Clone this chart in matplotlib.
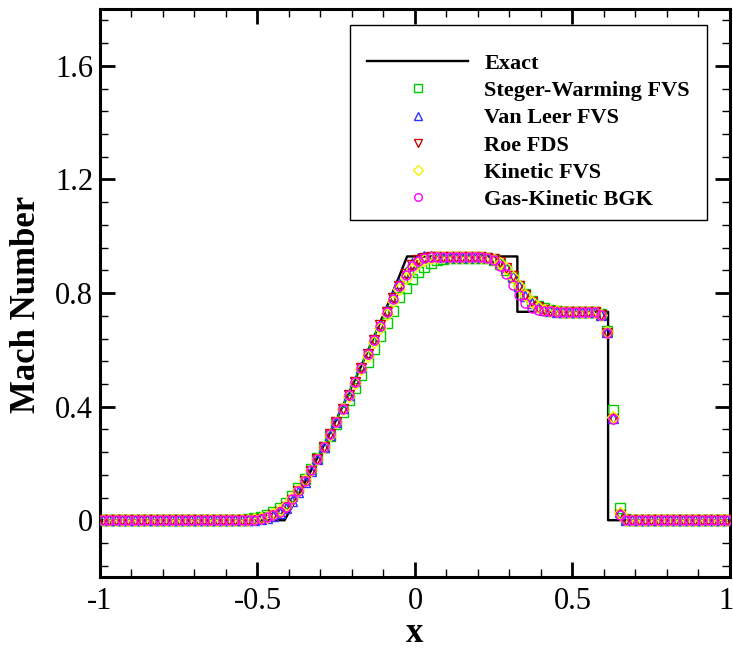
import numpy as np
import matplotlib
matplotlib.use("Agg")
import matplotlib.pyplot as plt
from matplotlib.patches import Rectangle
from matplotlib.ticker import MultipleLocator, FuncFormatter
from matplotlib.transforms import ScaledTranslation

# ---------------- data ----------------
# exact solution (breakpoints)
exact_x = [-1.0, -0.414, -0.37, -0.33, -0.29, -0.25, -0.21, -0.17, -0.13, -0.09,
           -0.05, -0.025, 0.325, 0.325, 0.613, 0.613, 1.0]
exact_m = [0.0, 0.0, 0.090, 0.175, 0.263, 0.354, 0.448, 0.545, 0.646, 0.750,
           0.859, 0.929, 0.929, 0.734, 0.734, 0.0, 0.0]

# cell centres of the 100-cell grid
x_cells = np.linspace(-0.99, 0.99, 100)

steger_warming = [
    0, 0, 0, 0, 0, 0, 0, 0, 0, 0,
    0, 0, 0, 0, 0, 0, 0, 0, 0, 0,
    0, 0, 0.001, 0.003, 0.007, 0.012, 0.019, 0.029, 0.043, 0.062,
    0.086, 0.114, 0.146, 0.181, 0.219, 0.257, 0.297, 0.338, 0.380, 0.423,
    0.467, 0.512, 0.557, 0.602, 0.648, 0.693, 0.738, 0.785, 0.818, 0.850,
    0.873, 0.893, 0.907, 0.916, 0.921, 0.923, 0.925, 0.925, 0.925, 0.925,
    0.925, 0.922, 0.915, 0.902, 0.882, 0.855, 0.824, 0.795, 0.772, 0.756,
    0.746, 0.740, 0.737, 0.735, 0.735, 0.735, 0.735, 0.735, 0.735, 0.726,
    0.668, 0.388, 0.042, 0.003, 0, 0, 0, 0, 0, 0,
    0, 0, 0, 0, 0, 0, 0, 0, 0, 0,
]

van_leer = [
    0, 0, 0, 0, 0, 0, 0, 0, 0, 0,
    0, 0, 0, 0, 0, 0, 0, 0, 0, 0,
    0, 0, 0, 0, 0.001, 0.003, 0.007, 0.014, 0.026, 0.044,
    0.069, 0.099, 0.134, 0.173, 0.214, 0.257, 0.301, 0.347, 0.394, 0.441,
    0.489, 0.538, 0.588, 0.638, 0.689, 0.739, 0.788, 0.836, 0.875, 0.907,
    0.925, 0.930, 0.930, 0.929, 0.928, 0.928, 0.928, 0.928, 0.928, 0.928,
    0.928, 0.926, 0.921, 0.911, 0.891, 0.860, 0.824, 0.791, 0.766, 0.750,
    0.741, 0.737, 0.735, 0.735, 0.735, 0.735, 0.735, 0.735, 0.735, 0.723,
    0.662, 0.360, 0.028, 0.001, 0, 0, 0, 0, 0, 0,
    0, 0, 0, 0, 0, 0, 0, 0, 0, 0,
]

roe_fds = [
    0, 0, 0, 0, 0, 0, 0, 0, 0, 0,
    0, 0, 0, 0, 0, 0, 0, 0, 0, 0,
    0, 0, 0, 0, 0.001, 0.004, 0.009, 0.017, 0.029, 0.047,
    0.073, 0.103, 0.137, 0.175, 0.215, 0.258, 0.302, 0.347, 0.393, 0.440,
    0.488, 0.537, 0.586, 0.636, 0.686, 0.735, 0.782, 0.826, 0.866, 0.898,
    0.917, 0.925, 0.927, 0.927, 0.927, 0.927, 0.927, 0.927, 0.927, 0.927,
    0.927, 0.925, 0.920, 0.910, 0.890, 0.860, 0.825, 0.792, 0.767, 0.750,
    0.741, 0.737, 0.735, 0.735, 0.735, 0.735, 0.735, 0.735, 0.735, 0.722,
    0.660, 0.355, 0.020, 0.001, 0, 0, 0, 0, 0, 0,
    0, 0, 0, 0, 0, 0, 0, 0, 0, 0,
]

kinetic_fvs = [
    0, 0, 0, 0, 0, 0, 0, 0, 0, 0,
    0, 0, 0, 0, 0, 0, 0, 0, 0, 0,
    0, 0, 0, 0.001, 0.003, 0.007, 0.013, 0.022, 0.035, 0.054,
    0.079, 0.108, 0.141, 0.178, 0.217, 0.258, 0.301, 0.345, 0.390, 0.436,
    0.483, 0.531, 0.579, 0.628, 0.677, 0.725, 0.771, 0.814, 0.852, 0.884,
    0.906, 0.918, 0.924, 0.926, 0.927, 0.927, 0.927, 0.927, 0.927, 0.927,
    0.927, 0.924, 0.918, 0.907, 0.887, 0.858, 0.825, 0.793, 0.769, 0.752,
    0.742, 0.738, 0.736, 0.735, 0.735, 0.735, 0.735, 0.735, 0.735, 0.723,
    0.662, 0.362, 0.025, 0.001, 0, 0, 0, 0, 0, 0,
    0, 0, 0, 0, 0, 0, 0, 0, 0, 0,
]

gas_kinetic_bgk = [
    0, 0, 0, 0, 0, 0, 0, 0, 0, 0,
    0, 0, 0, 0, 0, 0, 0, 0, 0, 0,
    0, 0, 0, 0, 0.002, 0.005, 0.010, 0.018, 0.030, 0.048,
    0.074, 0.104, 0.138, 0.176, 0.216, 0.258, 0.302, 0.347, 0.393, 0.440,
    0.488, 0.537, 0.586, 0.636, 0.684, 0.733, 0.780, 0.824, 0.862, 0.894,
    0.914, 0.923, 0.926, 0.927, 0.927, 0.927, 0.927, 0.927, 0.927, 0.927,
    0.927, 0.925, 0.917, 0.897, 0.867, 0.829, 0.793, 0.765, 0.749, 0.741,
    0.738, 0.736, 0.735, 0.735, 0.735, 0.735, 0.735, 0.735, 0.735, 0.722,
    0.660, 0.355, 0.020, 0.001, 0, 0, 0, 0, 0, 0,
    0, 0, 0, 0, 0, 0, 0, 0, 0, 0,
]

series_labels = ["Steger-Warming FVS", "Van Leer FVS", "Roe FDS",
                 "Kinetic FVS", "Gas-Kinetic BGK"]
series_values = [steger_warming, van_leer, roe_fds, kinetic_fvs, gas_kinetic_bgk]
series_markers = ["s", "^", "v", "D", "o"]
series_colors = ["#00cc00", "#3333ff", "#cc0000", "#f2f200", "#ff00ff"]
series_sizes = [7.5, 7.5, 7.5, 6.5, 6.5]

x_ticks = [-1, -0.5, 0, 0.5, 1]
y_ticks = [0, 0.4, 0.8, 1.2, 1.6]

# ---------------- plot ----------------
serif = ["Liberation Serif", "DejaVu Serif"]
plt.rcParams["font.family"] = serif

fig = plt.figure(figsize=(7.33, 6.52), dpi=100)
ax = fig.add_axes([0.1364, 0.115, 0.8595, 0.871])

line_exact, = ax.plot(exact_x, exact_m, color="black", lw=1.7, label="Exact",
                      zorder=2)
handles = [line_exact]
for vals, lab, mk, col, ms in zip(series_values, series_labels, series_markers,
                                  series_colors, series_sizes):
    h, = ax.plot(x_cells, vals, linestyle="none", marker=mk, markersize=ms,
                 markerfacecolor="none", markeredgecolor=col,
                 markeredgewidth=1.0, label=lab, zorder=3)
    handles.append(h)

ax.set_xlim(-1, 1)
ax.set_ylim(-0.2, 1.8)
ax.set_xticks(x_ticks)
ax.set_yticks(y_ticks)
ax.xaxis.set_minor_locator(MultipleLocator(0.1))
ax.yaxis.set_minor_locator(MultipleLocator(0.08))
fmt = FuncFormatter(lambda v, p: ("%g" % v).replace("\u2212", "-"))
ax.xaxis.set_major_formatter(fmt)
ax.yaxis.set_major_formatter(fmt)

ax.tick_params(which="both", direction="in", top=True, right=True)
ax.tick_params(which="major", length=11, width=2.0, labelsize=22)
ax.tick_params(axis="x", which="major", pad=7)
ax.tick_params(axis="y", which="major", pad=5)
ax.tick_params(which="minor", length=6, width=1.0)
for s in ax.spines.values():
    s.set_linewidth(2.2)

# nudge the last x tick label so it stays inside the figure
fig.canvas.draw()
lbls = ax.get_xticklabels()
lbls[-1].set_transform(lbls[-1].get_transform() +
                       ScaledTranslation(-4 / 100, 0, fig.dpi_scale_trans))

ax.set_xlabel("x", fontsize=25, fontweight="bold")
ax.set_ylabel("Mach Number", fontsize=25, fontweight="bold")
ax.xaxis.set_label_coords(0.5, -0.0986)
ax.xaxis.label.set_va("center")
ax.yaxis.set_label_coords(-0.116, 0.48)
ax.yaxis.label.set_va("center")

# legend box
ax.add_patch(Rectangle((0.397, 0.628), 0.566, 0.344, transform=ax.transAxes,
                       facecolor="white", edgecolor="black", lw=1.0,
                       zorder=4))
leg = ax.legend(handles=handles, loc="upper left",
                bbox_to_anchor=(0.424, 0.922), frameon=False,
                prop={"family": serif, "weight": "bold", "size": 16},
                handlelength=4.55, handletextpad=0.72, labelspacing=0.3,
                borderpad=0, borderaxespad=0, markerscale=0.85)
leg.set_zorder(5)

fig.savefig("out.png", dpi=100)
